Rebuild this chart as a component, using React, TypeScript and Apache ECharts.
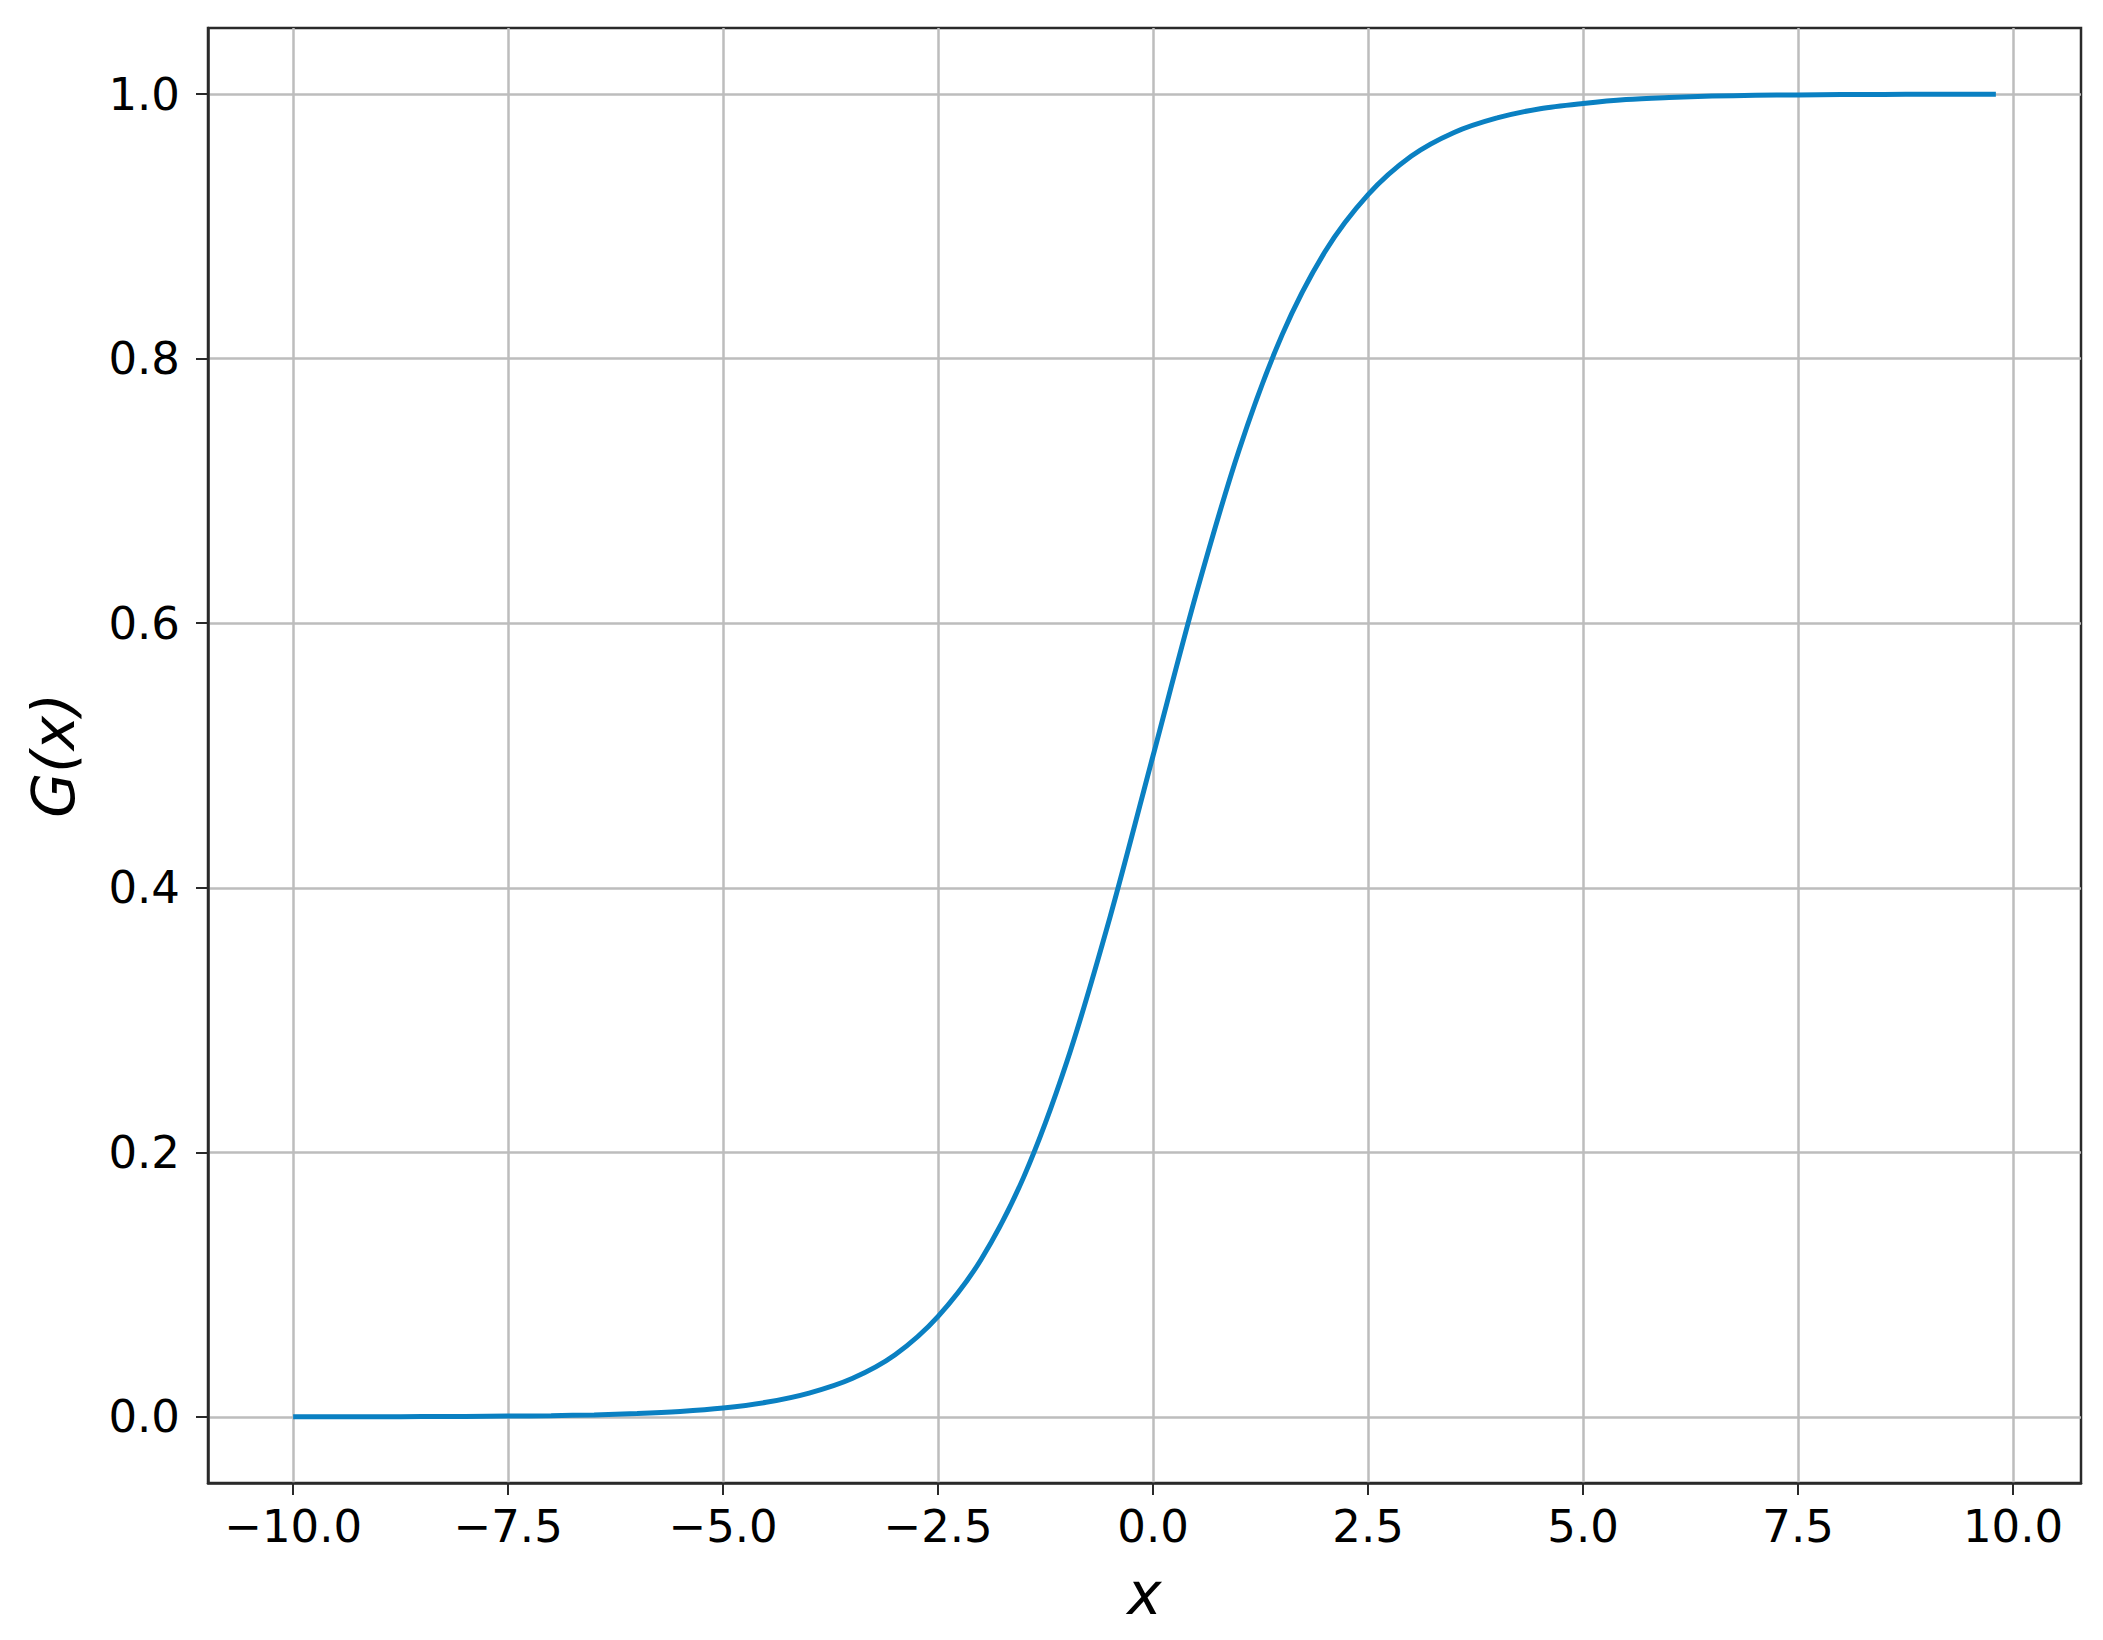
import React, { useEffect, useRef } from "react";
import * as echarts from "echarts";

const xValues = [
  -10, -9.5, -9, -8.5, -8, -7.5, -7, -6.5, -6, -5.5, -5, -4.5, -4, -3.5, -3,
  -2.5, -2, -1.5, -1, -0.5, 0, 0.5, 1, 1.5, 2, 2.5, 3, 3.5, 4, 4.5, 5, 5.5,
  6, 6.5, 7, 7.5, 8, 8.5, 9, 9.5, 9.8,
];
const gValues = [
  0.0, 0.0001, 0.0001, 0.0002, 0.0003, 0.0006, 0.0009, 0.0015, 0.0025,
  0.0041, 0.0067, 0.011, 0.018, 0.029, 0.047, 0.076, 0.119, 0.182, 0.269,
  0.378, 0.5, 0.622, 0.731, 0.818, 0.881, 0.924, 0.953, 0.971, 0.982, 0.989,
  0.993, 0.996, 0.9975, 0.9985, 0.9991, 0.9994, 0.9997, 0.9998, 0.9999,
  0.9999, 0.9999,
];
const xTicks = [-10, -7.5, -5, -2.5, 0, 2.5, 5, 7.5, 10];
const yTicks = [0, 0.2, 0.4, 0.6, 0.8, 1.0];

const FONT = "DejaVu Sans";

function fmtX(v: number): string {
  const s = Math.abs(v).toFixed(1);
  return v < 0 ? "\u2212" + s : s;
}

export default function App() {
  const ref = useRef<HTMLDivElement>(null);
  useEffect(() => {
    if (!ref.current) return;
    const chart = echarts.init(ref.current, null, { renderer: "svg" });
    const axisCommon = {
      axisLine: { show: true, onZero: false, lineStyle: { color: "#2a2a2a", width: 2.5 } },
      axisTick: { show: true, length: 12, lineStyle: { color: "#2a2a2a", width: 2 } },
      splitLine: { show: true, lineStyle: { color: "#bdbdbd", width: 2.5 } },
    };
    chart.setOption({
      animation: false,
      backgroundColor: "#ffffff",
      grid: {
        left: 208,
        top: 28,
        right: 22,
        bottom: 157,
        show: true,
        borderColor: "#2a2a2a",
        borderWidth: 2.5,
        backgroundColor: "transparent",
      },
      xAxis: {
        type: "value",
        min: -10.99,
        max: 10.79,
        ...axisCommon,
        axisTick: { ...axisCommon.axisTick, customValues: xTicks },
        axisLabel: {
          customValues: xTicks,
          formatter: (v: number) => fmtX(v),
          fontFamily: FONT,
          fontSize: 45,
          color: "#000",
          margin: 21,
        },
        name: "x",
        nameLocation: "middle",
        nameGap: 82,
        nameTextStyle: { fontFamily: FONT, fontStyle: "italic", fontSize: 58, color: "#000" },
      },
      yAxis: {
        type: "value",
        min: -0.05,
        max: 1.05,
        ...axisCommon,
        axisTick: { ...axisCommon.axisTick, customValues: yTicks },
        axisLabel: {
          customValues: yTicks,
          formatter: (v: number) => v.toFixed(1),
          fontFamily: FONT,
          fontSize: 45,
          color: "#000",
          margin: 28,
        },
        name: "G(x)",
        nameLocation: "middle",
        nameGap: 125,
        nameTextStyle: { fontFamily: FONT, fontStyle: "italic", fontSize: 58, color: "#000" },
      },
      series: [
        {
          type: "line",
          data: xValues.map((x, i) => [x, gValues[i]]),
          smooth: 0.3,
          showSymbol: false,
          lineStyle: { color: "#0a80c2", width: 5 },
          itemStyle: { color: "#0a80c2" },
        },
      ],
    });
    return () => chart.dispose();
  }, []);
  return (
    <div
      ref={ref}
      style={{ position: "fixed", left: 0, top: 0, width: 2103, height: 1640 }}
    />
  );
}
